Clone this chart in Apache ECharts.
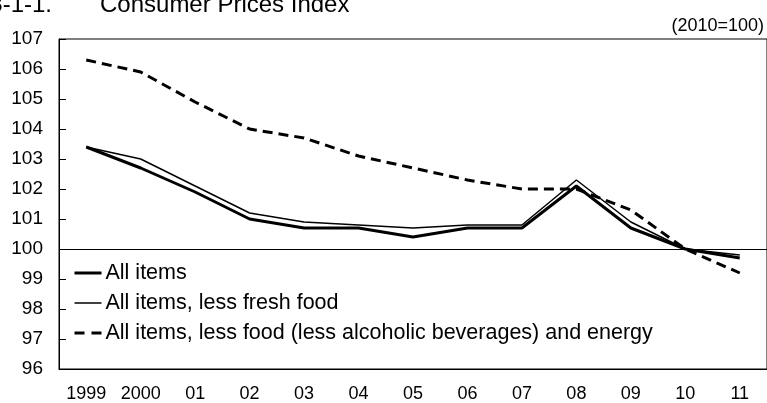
<!DOCTYPE html>
<html>
<head>
<meta charset="utf-8">
<style>
html,body{margin:0;padding:0;background:#fff;}
#c{width:767px;height:403px;}
</style>
<script src="https://cdn.jsdelivr.net/npm/echarts@6/dist/echarts.min.js"></script>
</head>
<body>
<div id="c"></div>
<script>
const categories = ['1999','2000','01','02','03','04','05','06','07','08','09','10','11'];
const allItems = [103.4, 102.7, 101.9, 101.0, 100.7, 100.7, 100.4, 100.7, 100.7, 102.1, 100.7, 100.0, 99.7];
const lessFreshFood = [103.4, 103.0, 102.1, 101.2, 100.9, 100.8, 100.7, 100.8, 100.8, 102.3, 100.9, 100.0, 99.8];
const lessFoodEnergy = [106.3, 105.9, 104.9, 104.0, 103.7, 103.1, 102.7, 102.3, 102.0, 102.0, 101.3, 100.0, 99.2];
const seriesNames = ['All items', 'All items, less fresh food', 'All items, less food (less alcoholic beverages) and energy'];
const yMin = 96, yMax = 107, yStep = 1;
const baseValue = 100;

const FONT = '"Liberation Sans", Arial, sans-serif';
const styles = [
  {width: 3, type: 'solid', legendType: 'solid'},
  {width: 1.5, type: 'solid', legendType: 'solid'},
  {width: 3, type: [10, 6], legendType: [10, 7]}
];
const chart = echarts.init(document.getElementById('c'), null, {renderer: 'canvas'});
chart.setOption({
  animation: false,
  backgroundColor: '#fff',
  textStyle: {fontFamily: FONT, color: '#000'},
  graphic: [
    {type: 'text', x: 52, y: 5, style: {text: '3-1-1.', font: '24px ' + FONT, fill: '#000', textAlign: 'right', textVerticalAlign: 'middle'}},
    {type: 'text', x: 100, y: 5, style: {text: 'Consumer Prices Index', font: '24px ' + FONT, fill: '#000', textAlign: 'left', textVerticalAlign: 'middle'}},
    {type: 'text', x: 764, y: 26, style: {text: '(2010=100)', font: '18px ' + FONT, fill: '#000', textAlign: 'right', textVerticalAlign: 'middle'}}
  ],
  grid: {left: 59, right: -1, top: 39, bottom: 34, show: true, borderColor: '#000', borderWidth: 1, backgroundColor: 'transparent'},
  legend: {
    orient: 'vertical', left: 68, top: 257, itemWidth: 27, itemHeight: 12, itemGap: 8,
    padding: 5,
    itemStyle: {opacity: 0},
    textStyle: {fontFamily: FONT, fontSize: 21.5, color: '#000', padding: [0, 0, 0, -1]},
    data: seriesNames.map((n, i) => ({name: n, lineStyle: {color: '#000', width: styles[i].width, type: styles[i].legendType}}))
  },
  xAxis: {
    type: 'category', data: categories, boundaryGap: true,
    axisLine: {show: true, lineStyle: {color: '#000', width: 1}},
    axisTick: {show: false},
    axisLabel: {fontFamily: FONT, fontSize: 18, color: '#000', margin: 16, interval: 0},
    splitLine: {show: false}
  },
  yAxis: {
    type: 'value', min: yMin, max: yMax, interval: yStep,
    axisLine: {show: true, lineStyle: {color: '#000', width: 1}},
    axisTick: {show: true, inside: true, length: 7, lineStyle: {color: '#000'}},
    axisLabel: {fontFamily: FONT, fontSize: 19, color: '#000', margin: 16},
    splitLine: {show: false}
  },
  series: [
    {
      name: seriesNames[0], type: 'line', data: allItems, symbol: 'none',
      lineStyle: {color: '#000', width: styles[0].width, type: styles[0].type}, itemStyle: {color: '#000'}, z: 3,
      markLine: {silent: true, symbol: 'none', label: {show: false},
        lineStyle: {color: '#000', width: 1, type: 'solid'}, data: [{yAxis: baseValue}]}
    },
    {
      name: seriesNames[1], type: 'line', data: lessFreshFood, symbol: 'none',
      lineStyle: {color: '#000', width: styles[1].width, type: styles[1].type}, itemStyle: {color: '#000'}, z: 3
    },
    {
      name: seriesNames[2], type: 'line', data: lessFoodEnergy, symbol: 'none',
      lineStyle: {color: '#000', width: styles[2].width, type: styles[2].type}, itemStyle: {color: '#000'}, z: 2
    }
  ]
});
</script>
</body>
</html>
